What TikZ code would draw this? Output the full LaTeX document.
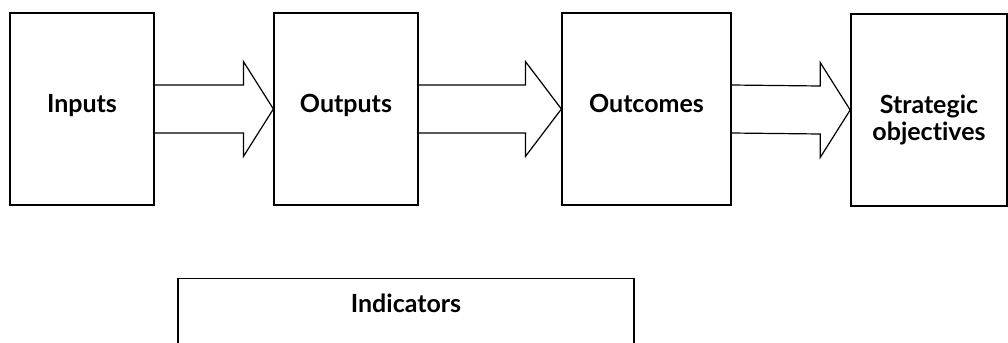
\documentclass[tikz,border=0pt]{standalone}
\usepackage{fontspec}
\setmainfont{Lato}[Ligatures=NoCommon]
\usetikzlibrary{calc}

\begin{document}
\begin{tikzpicture}[x=0.5pt,y=-0.5pt,
  stage/.style={draw, line width=0.6pt, minimum height=96pt, inner sep=0pt,
    text height=6pt, text depth=3pt, font=\fontsize{12.5}{13.5}\selectfont\bfseries},
  flow/.style={draw, line width=0.6pt, line join=miter}]
\useasboundingbox (0,0) rectangle (1008,343);
% results chain
\node[stage, minimum width=72pt] (inputs) at (82,109) {Inputs};
\node[stage, minimum width=72pt] (outputs) at (346,109) {Outputs};
\node[stage, minimum width=84.5pt] (outcomes) at (646.5,109) {Outcomes};
\node[stage, minimum width=78pt, line width=0.8pt,
  label={[align=center, inner sep=0pt, font=\fontsize{12.5}{13.5}\selectfont\bfseries,
  yshift=-5pt]center:Strategic\\objectives}] (strategic) at (929,110) {};
%
\foreach \from/\to/\hl in {inputs/outputs/30, outputs/outcomes/36, outcomes/strategic/30}
  \draw[flow] ($(\from.east)+(0,-24)$) -- ($(\to.west)+(-\hl,-24)$)
    -- ($(\to.west)+(-\hl,-47.5)$) -- (\to.west) -- ($(\to.west)+(-\hl,47.5)$)
    -- ($(\to.west)+(-\hl,24)$) -- ($(\from.east)+(0,24)$);
%
\node[draw, line width=0.6pt, minimum width=228pt, minimum height=60pt, inner sep=0pt,
  anchor=north, label={[font=\fontsize{12.5}{13.5}\selectfont\bfseries, inner sep=0pt,
  anchor=north, yshift=-8pt]north:Indicators}] (indicators) at (406,278) {};
\end{tikzpicture}
\end{document}
